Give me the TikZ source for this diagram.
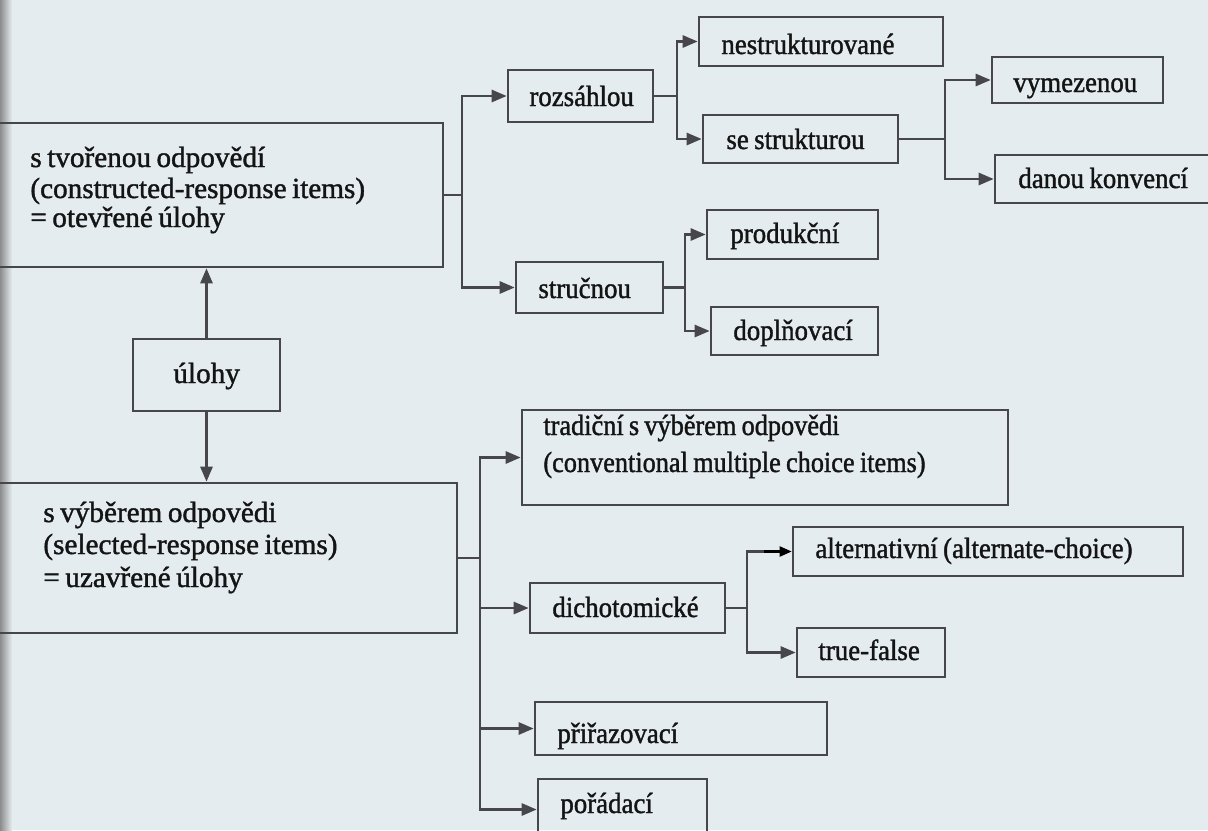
\documentclass[tikz,border=0pt]{standalone}
\usepackage{fontspec}
\setmainfont{Liberation Serif}[FakeBold=1.3, WordSpace=0.75]
\newfontfamily\condfont{Liberation Serif}[FakeStretch=0.92, FakeBold=1.3, WordSpace=0.8]
\newfontfamily\tradfont{Liberation Serif}[FakeStretch=0.9, FakeBold=1.3, WordSpace=0.8]
\usetikzlibrary{arrows.meta,fit}
\definecolor{bg}{HTML}{E4ECF0}
\definecolor{ln}{HTML}{46464B}
\begin{document}
\begin{tikzpicture}[x=0.5pt,y=-0.5pt,
  box/.style={draw=ln, line width=1.3pt, inner sep=0pt},
  txt/.style={font=\fontsize{14.6pt}{15.5pt}\selectfont, inner sep=0pt, anchor=base west, text=black!92},
  ctxt/.style={txt, font=\fontsize{14.6pt}{15.5pt}\condfont},
  ttxt/.style={txt, font=\fontsize{14.6pt}{15.5pt}\tradfont},
  line/.style={draw=ln, line width=1.3pt},
  arr/.style={line, -{Triangle[length=7.5pt,width=6pt]}},
  arrk/.style={draw=black, line width=1.1pt, -{Triangle[length=6pt,width=5pt]}}]
\useasboundingbox (0,0) rectangle (1208,830);
\clip (0,0) rectangle (1208,830);
\fill[bg] (0,0) rectangle (1208,830);
\fill[left color=black!45, right color=bg] (0,0) rectangle (12,830);

% boxes and texts
\node[box, fit={(-4,123) (443,267)}] (A) {};
\node[txt] (At1) at (30,167) {s tvořenou odpovědí};
\node[txt] (At2) at (30,198) {(constructed-response items)};
\node[txt] (At3) at (30,227) {= otevřené úlohy};

\node[box, fit={(133,339) (280,411)}] (U) {};
\node[txt] (Ut) at (173,383) {úlohy};

\node[box, fit={(-4,483) (457,633)}] (B) {};
\node[txt] (Bt1) at (43,522) {s výběrem odpovědi};
\node[txt] (Bt2) at (43,554) {(selected-response items)};
\node[txt] (Bt3) at (43,587) {= uzavřené úlohy};

\node[box, fit={(508,70) (653,122)}] (roz) {};
\node[ctxt] (rozt) at (529,106) {rozsáhlou};

\node[box, fit={(699,17) (943,66)}] (nes) {};
\node[ctxt] (nest) at (721,54) {nestrukturované};

\node[box, fit={(703,115) (898,163)}] (ses) {};
\node[ctxt] (sest) at (726,149) {se strukturou};

\node[box, fit={(992,57) (1163,103)}] (vym) {};
\node[ctxt] (vymt) at (1013,92) {vymezenou};

\node[box, fit={(995,155) (1214,203)}] (dan) {};
\node[ctxt] (dant) at (1018,188) {danou konvencí};

\node[box, fit={(516,262) (663,313)}] (str) {};
\node[ctxt] (strt) at (538,298) {stručnou};

\node[box, fit={(707,210) (878,259)}] (pro) {};
\node[ctxt] (prot) at (730,243) {produkční};

\node[box, fit={(711,307) (878,355)}] (dop) {};
\node[ctxt] (dopt) at (733,340) {doplňovací};

\node[box, fit={(522,410) (1008,505)}] (tra) {};
\node[ttxt] (trat1) at (543,435) {tradiční s výběrem odpovědi};
\node[ttxt] (trat2) at (543,472) {(conventional multiple choice items)};

\node[box, fit={(530,583) (725,633)}] (dic) {};
\node[ctxt] (dict) at (552,617) {dichotomické};

\node[box, fit={(793,527) (1183,576)}] (alt) {};
\node[ctxt] (altt) at (815,558) {alternativní (alternate-choice)};

\node[box, fit={(797,628) (945,677)}] (tf) {};
\node[ctxt] (tft) at (818,660) {true-false};

\node[box, fit={(535,702) (827,755)}] (pri) {};
\node[ctxt] (prit) at (557,743) {přiřazovací};

\node[box, fit={(538,779) (707,840)}] (por) {};
\node[ctxt] (port) at (560,813) {pořádací};

% junctions
\coordinate (jA) at (462,195);
\coordinate (jR) at (677,96);
\coordinate (jS) at (945,139);
\coordinate (jT) at (685,287.5);
\coordinate (jB) at (480,558);
\coordinate (jD) at (747,608);

% connectors
\draw[arr] (U.north) -- (U.north |- A.south);
\draw[arr] (U.south) -- (U.south |- B.north);

\draw[line] (A.east) -- (jA);
\draw[arr] (jA) |- (roz.west);
\draw[arr] (jA) |- (str.west);

\draw[line] (roz.east) -- (jR);
\draw[arr] (jR) |- (nes.west);
\draw[arr] (jR) |- (ses.west);

\draw[line] (ses.east) -- (jS);
\draw[arr] (jS) |- (vym.west);
\draw[arr] (jS) |- (dan.west);

\draw[line] (str.east) -- (jT);
\draw[arr] (jT) |- (pro.west);
\draw[arr] (jT) |- (dop.west);

\draw[line] (B.east) -- (jB);
\draw[arr] (jB) |- (tra.west);
\draw[arr] (jB) |- (dic.west);
\draw[arr] (jB) |- (pri.west);
\draw[arr] (jB) |- (por.west);

\draw[line] (dic.east) -- (jD);
\draw[line] (jD) |- ([xshift=-14pt]alt.west);
\draw[arrk] ([xshift=-14pt]alt.west) -- (alt.west);
\draw[arr] (jD) |- (tf.west);
\end{tikzpicture}
\end{document}
